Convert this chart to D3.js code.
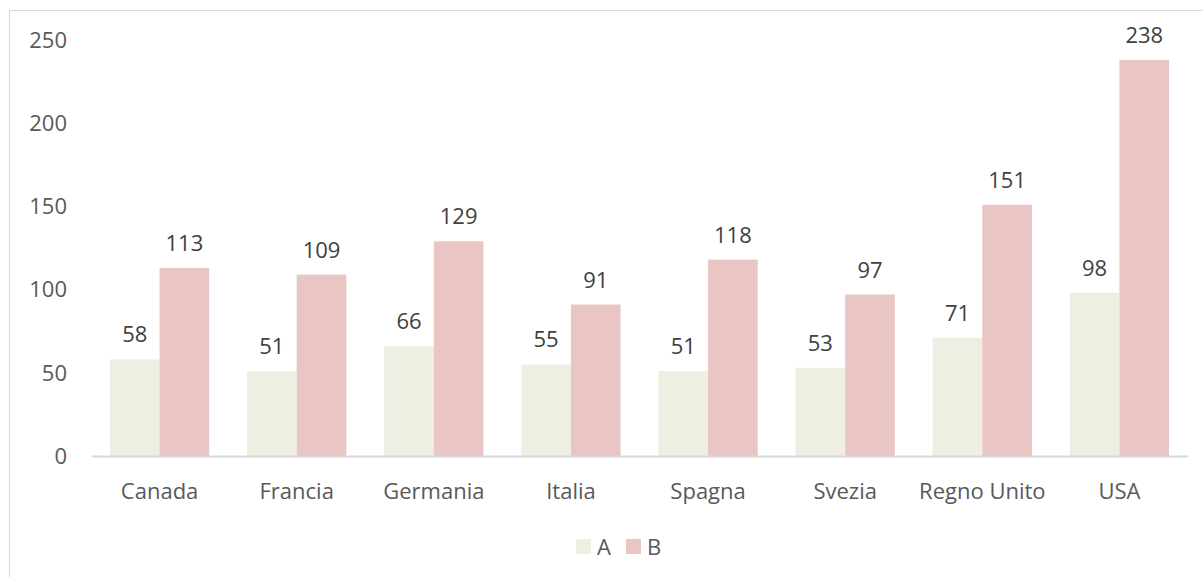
<!DOCTYPE html>
<html>
<head>
<meta charset="utf-8">
<script src="https://cdn.jsdelivr.net/npm/d3@7"></script>
<style>
  body { margin: 0; background: #fff; }
  svg { display: block; font-family: "Open Sans", "Noto Sans", sans-serif; }
</style>
</head>
<body>
<div id="chart"></div>
<script>
var categories = ["Canada", "Francia", "Germania", "Italia", "Spagna", "Svezia", "Regno Unito", "USA"];
var seriesNames = ["A", "B"];
var valuesA = [58, 51, 66, 55, 51, 53, 71, 98];
var valuesB = [113, 109, 129, 91, 118, 97, 151, 238];
var yTicks = [0, 50, 100, 150, 200, 250];
var colors = ["#eeeee3", "#e9c5c4"];

var width = 1203,
    height = 577,
    fontSize = "22px";

var margin = {top: 40, right: 15, bottom: 121, left: 91},
    chartWidth = 1188 - margin.left,
    chartHeight = 456 - margin.top;

var svg = d3.select("#chart").append("svg")
    .attr("width", width)
    .attr("height", height);

// outer frame
svg.append("rect")
    .attr("x", 9.5).attr("y", 10.5)
    .attr("width", 1200).attr("height", 600)
    .attr("fill", "none")
    .attr("stroke", "#d9d9d9");

var chart = svg.append("g")
    .attr("transform", "translate(" + margin.left + "," + margin.top + ")");

var x = d3.scaleBand()
    .domain(categories)
    .range([0, chartWidth])
    .paddingInner(0.276)
    .paddingOuter(0.138);

var x1 = d3.scaleBand()
    .domain(seriesNames)
    .range([0, x.bandwidth()]);

var y = d3.scaleLinear()
    .domain([0, 250])
    .range([chartHeight, 0]);

var data = categories.map(function(c, i) {
  return {key: c, values: [{s: "A", v: valuesA[i]}, {s: "B", v: valuesB[i]}]};
});

// y tick labels
chart.selectAll("text.ytick")
  .data(yTicks)
  .enter().append("text")
    .attr("class", "ytick")
    .attr("x", -24)
    .attr("y", function(d) { return y(d); })
    .attr("dy", "0.35em")
    .attr("text-anchor", "end")
    .attr("fill", "#595959")
    .style("font-size", fontSize)
    .text(function(d) { return d; });

var groups = chart.selectAll("g.cat")
  .data(data)
  .enter().append("g")
    .attr("class", "cat")
    .attr("transform", function(d) { return "translate(" + x(d.key) + ",0)"; });

groups.selectAll("rect")
  .data(function(d) { return d.values; })
  .enter().append("rect")
    .attr("x", function(d) { return x1(d.s); })
    .attr("width", x1.bandwidth())
    .attr("y", function(d) { return y(d.v); })
    .attr("height", function(d) { return chartHeight - y(d.v); })
    .attr("fill", function(d, i) { return colors[i]; });

groups.selectAll("text.val")
  .data(function(d) { return d.values; })
  .enter().append("text")
    .attr("class", "val")
    .attr("x", function(d) { return x1(d.s) + x1.bandwidth() / 2; })
    .attr("y", function(d) { return y(d.v) - 17; })
    .attr("text-anchor", "middle")
    .attr("fill", "#404040")
    .style("font-size", fontSize)
    .text(function(d) { return d.v; });

// x axis
var xAxis = d3.axisBottom(x).tickSize(0).tickPadding(27);
var gx = chart.append("g")
    .attr("transform", "translate(0," + chartHeight + ")")
    .call(xAxis);
gx.select(".domain").attr("stroke", "#d9d9d9").attr("stroke-width", 2);
gx.selectAll("text")
    .attr("fill", "#595959")
    .style("font-size", fontSize)
    .style("font-family", "\"Open Sans\", \"Noto Sans\", sans-serif");

// legend
var legend = svg.append("g")
    .attr("transform", "translate(576,539)");
var li = legend.selectAll("g")
  .data(seriesNames)
  .enter().append("g")
    .attr("transform", function(d, i) { return "translate(" + (i * 50) + ",0)"; });
li.append("rect")
    .attr("width", 15).attr("height", 15)
    .attr("fill", function(d, i) { return colors[i]; });
li.append("text")
    .attr("x", 21).attr("y", 8)
    .attr("dy", "0.35em")
    .attr("fill", "#595959")
    .style("font-size", fontSize)
    .text(function(d) { return d; });
</script>
</body>
</html>
